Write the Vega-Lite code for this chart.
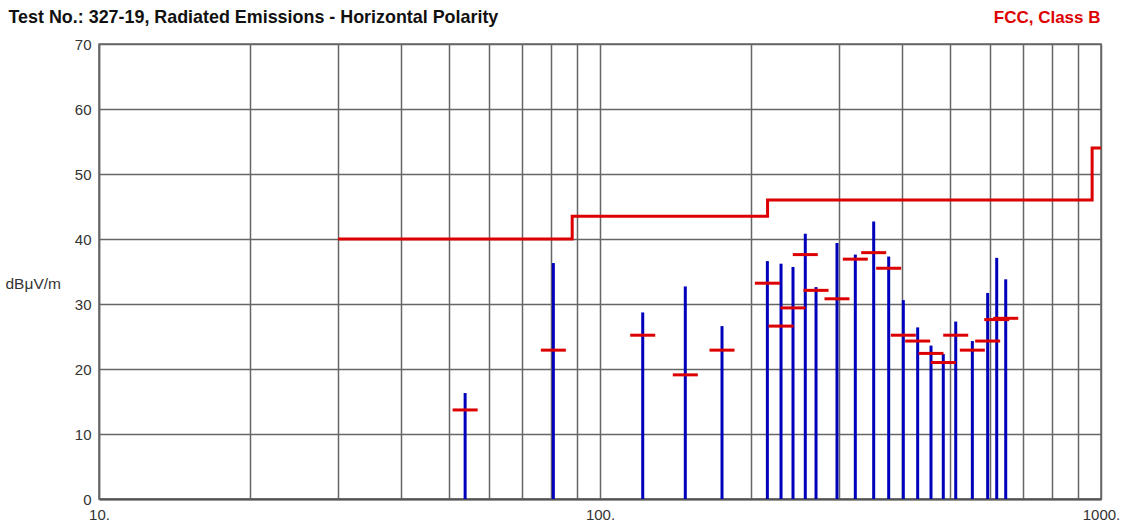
{
  "$schema": "https://vega.github.io/schema/vega-lite/v6.json",
  "width": 1002,
  "height": 455,
  "autosize": {"type": "none"},
  "padding": {"left": 99, "top": 44, "right": 22, "bottom": 26},
  "background": "white",
  "datasets": {
    "emissions": [
      {"f": 53.8, "pk": 16.3, "qp": 13.7},
      {"f": 80.7, "pk": 36.3, "qp": 22.9},
      {"f": 121.7, "pk": 28.7, "qp": 25.2},
      {"f": 148, "pk": 32.7, "qp": 19.1},
      {"f": 175.2, "pk": 26.6, "qp": 22.9},
      {"f": 215.8, "pk": 36.6, "qp": 33.2},
      {"f": 229.8, "pk": 36.2, "qp": 26.6},
      {"f": 242.8, "pk": 35.7, "qp": 29.4},
      {"f": 256.9, "pk": 40.8, "qp": 37.6},
      {"f": 269.9, "pk": 32.6, "qp": 32.1},
      {"f": 297.2, "pk": 39.4, "qp": 30.8},
      {"f": 323.3, "pk": 37.6, "qp": 36.9},
      {"f": 351.8, "pk": 42.7, "qp": 37.9},
      {"f": 376.9, "pk": 37.3, "qp": 35.5},
      {"f": 403.1, "pk": 30.6, "qp": 25.2},
      {"f": 430.6, "pk": 26.4, "qp": 24.3},
      {"f": 457.8, "pk": 23.6, "qp": 22.4},
      {"f": 484.4, "pk": 22.3, "qp": 21.0},
      {"f": 512.9, "pk": 27.3, "qp": 25.2},
      {"f": 553.6, "pk": 24.3, "qp": 22.9},
      {"f": 594, "pk": 31.7, "qp": 24.3},
      {"f": 619.2, "pk": 37.1, "qp": 27.6},
      {"f": 645.4, "pk": 33.8, "qp": 27.8}
    ],
    "limit": [
      {"f": 30, "lim": 40},
      {"f": 88, "lim": 43.5},
      {"f": 216, "lim": 46},
      {"f": 960, "lim": 54},
      {"f": 1000, "lim": 54}
    ]
  },
  "config": {
    "view": {"stroke": "#666666", "strokeWidth": 1.5},
    "axis": {
      "labelFont": "Liberation Sans",
      "labelFontSize": 15,
      "labelColor": "#333333",
      "titleFont": "Liberation Sans",
      "gridColor": "#666666",
      "gridWidth": 1.5,
      "gridOpacity": 1,
      "ticks": false,
      "domainColor": "#666666",
      "domainWidth": 1.5
    }
  },
  "resolve": {"axis": {"x": "independent"}},
  "layer": [
    {
      "data": {"name": "emissions"},
      "mark": {"type": "rule", "color": "#0000bb", "strokeWidth": 3},
      "encoding": {
        "x": {
          "field": "f",
          "type": "quantitative",
          "scale": {"type": "log", "domain": [10, 1000], "nice": false},
          "axis": {
            "orient": "bottom",
            "title": null,
            "values": [10, 20, 30, 40, 50, 60, 70, 80, 90, 100, 200, 300, 400, 500, 600, 700, 800, 900, 1000],
            "labelExpr": "indexof([10, 100, 1000], datum.value) >= 0 ? datum.value + '.' : ''",
            "labelPadding": 8,
            "labelFlush": false,
            "labelOverlap": false,
            "domainColor": "#555555",
            "domainWidth": 2
          }
        },
        "y": {
          "field": "pk",
          "type": "quantitative",
          "scale": {"domain": [0, 70], "nice": false},
          "axis": {
            "values": [0, 10, 20, 30, 40, 50, 60, 70],
            "title": "dBμV/m",
            "titleAngle": 0,
            "titleX": -94,
            "titleY": 239,
            "titleAlign": "left",
            "titleBaseline": "middle",
            "titleFontSize": 15.5,
            "titleFontWeight": "normal",
            "titleColor": "#333333",
            "labelPadding": 8
          }
        },
        "y2": {"datum": 0}
      }
    },
    {
      "data": {"name": "emissions"},
      "mark": {"type": "tick", "orient": "horizontal", "color": "#dd0000", "opacity": 1, "size": 25, "thickness": 3},
      "encoding": {
        "x": {
          "field": "f",
          "type": "quantitative",
          "axis": {
            "orient": "top",
            "labels": false,
            "grid": false,
            "domain": false,
            "ticks": false,
            "title": "Test No.: 327-19, Radiated Emissions - Horizontal Polarity",
            "titleX": -91,
            "titleY": -22,
            "titleAlign": "left",
            "titleBaseline": "alphabetic",
            "titleFontSize": 17.9,
            "titleFontWeight": "bold",
            "titleColor": "#111111"
          }
        },
        "y": {"field": "qp", "type": "quantitative"}
      }
    },
    {
      "data": {"name": "limit"},
      "mark": {"type": "line", "color": "#dd0000", "strokeWidth": 3, "interpolate": "step-after"},
      "encoding": {
        "x": {
          "field": "f",
          "type": "quantitative",
          "axis": {
            "orient": "top",
            "labels": false,
            "grid": false,
            "domain": false,
            "ticks": false,
            "title": "FCC, Class B",
            "titleX": 1001,
            "titleY": -22,
            "titleAlign": "right",
            "titleBaseline": "alphabetic",
            "titleFontSize": 17,
            "titleFontWeight": "bold",
            "titleColor": "#dd0000"
          }
        },
        "y": {"field": "lim", "type": "quantitative"}
      }
    }
  ]
}
